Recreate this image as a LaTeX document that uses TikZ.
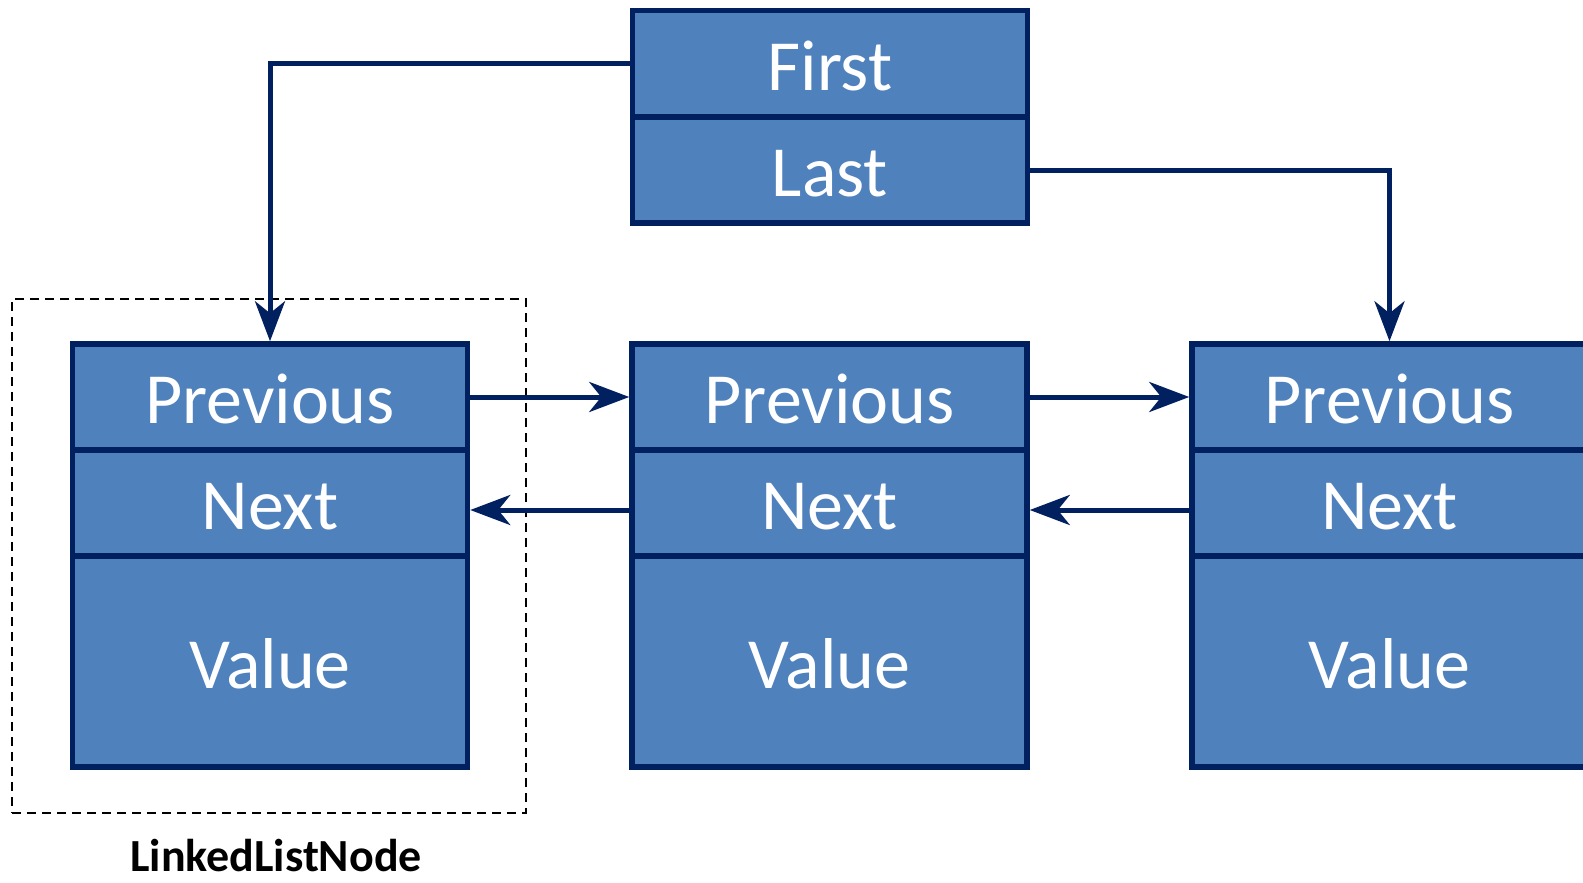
\documentclass[tikz,border=0pt]{standalone}
\usepackage{fontspec}
\setmainfont{Carlito}
\usetikzlibrary{arrows.meta}
\definecolor{cellfill}{HTML}{4F81BD}
\definecolor{navy}{HTML}{002060}
\tikzset{
  cell/.style={draw=navy, fill=cellfill, line width=5.5pt, text=white,
    font=\fontsize{72}{80}\selectfont, inner sep=0pt, minimum width=395pt,
    text height=53pt, text depth=0pt},
  row/.style={cell, minimum height=106pt},
  valrow/.style={cell, minimum height=211pt},
  link/.style={draw=navy, line width=5pt,
    -{Stealth[length=40pt,width=30pt,inset=12pt]}},
  group/.style={draw=black, line width=1.8pt, dash pattern=on 9pt off 6pt, inner sep=0pt}
}
\begin{document}
\begin{tikzpicture}[x=1pt,y=-1pt]
\useasboundingbox (0,0) rectangle (1583,883);
\node[group, minimum width=514pt, minimum height=514pt] (grp) at (269,556) {};
% list header
\node[row] (first) at (830,63.5) {First};
\node[row] (last) at (830,170) {Last};
% node 1
\node[row] (p1) at (270,397) {Previous};
\node[row] (n1) at (270,503) {Next};
\node[valrow] (v1) at (270,661.5) {Value};
% node 2
\node[row] (p2) at (829.5,397) {Previous};
\node[row] (n2) at (829.5,503) {Next};
\node[valrow] (v2) at (829.5,661.5) {Value};
% node 3
\node[row] (p3) at (1389.5,397) {Previous};
\node[row] (n3) at (1389.5,503) {Next};
\node[valrow] (v3) at (1389.5,661.5) {Value};
% label
\node[anchor=base, inner sep=0pt, font=\fontsize{46}{52}\selectfont\bfseries] (lbl) at (276,871) {LinkedListNode};
% connectors
\draw[link] (first.west) -| (p1.north);
\draw[link] (last.east) -| (p3.north);
\draw[link] (p1.east) -- (p2.west);
\draw[link] (p2.east) -- (p3.west);
\draw[link] ([yshift=-7pt]n2.west) -- ([yshift=-7pt]n1.east);
\draw[link] ([yshift=-7pt]n3.west) -- ([yshift=-7pt]n2.east);
\end{tikzpicture}
\end{document}
